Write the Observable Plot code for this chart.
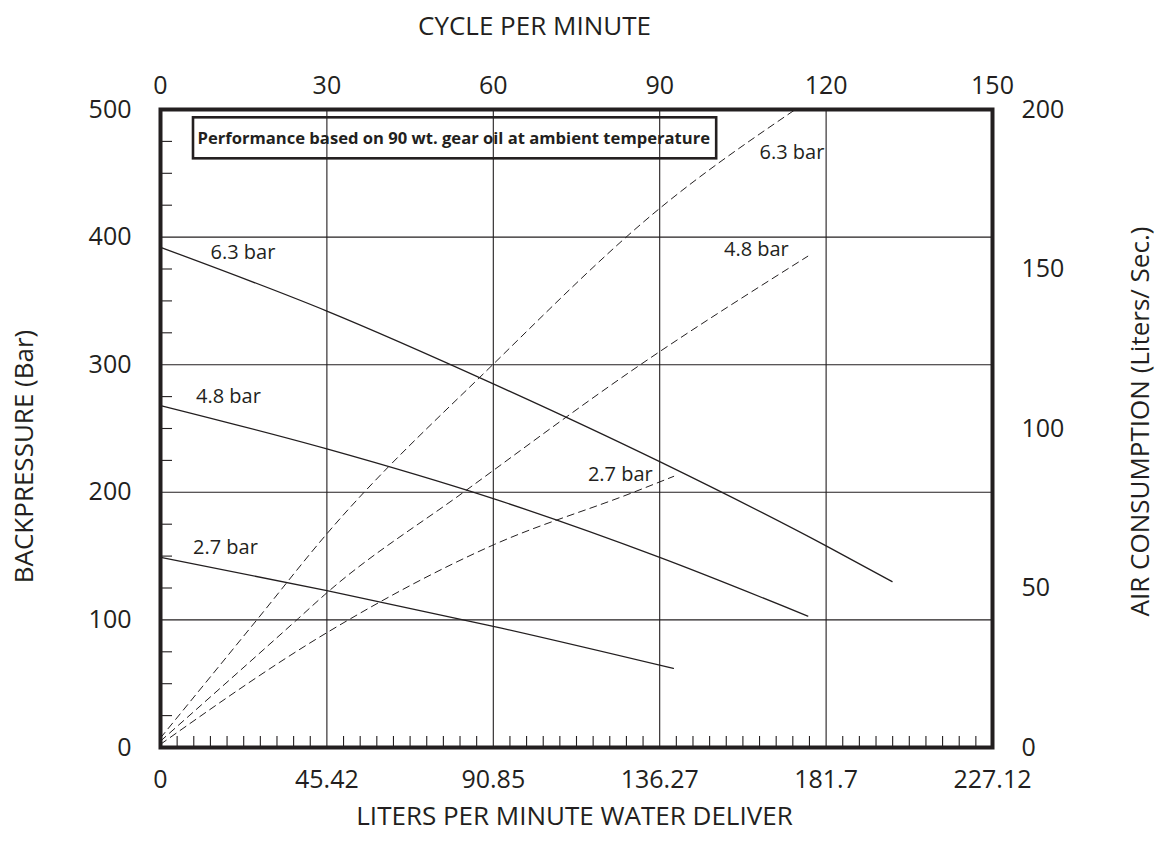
<!DOCTYPE html>
<html><head><meta charset="utf-8">
<script src="https://cdn.jsdelivr.net/npm/d3@7"></script>
<script src="https://cdn.jsdelivr.net/npm/@observablehq/plot@0.6"></script>
<style>body{margin:0;background:#fff;overflow:hidden}</style>
</head><body><div id="chart"></div>
<script>
// ---- axis ticks ----
const flowTicks = [0, 45.42, 90.85, 136.27, 181.7, 227.12];
const cycleTicks = [0, 30, 60, 90, 120, 150];
const bpTicks = [0, 100, 200, 300, 400, 500];
const airTicks = [0, 50, 100, 150, 200];
const pressures = ["6.3 bar", "4.8 bar", "2.7 bar"];

// ---- backpressure curves (solid) ----
const flowBp63 = [0, 45.42, 90.85, 136.27, 181.7, 199.7];
const bp63 = [392, 342, 285, 224, 158, 130];
const flowBp48 = [0, 45.42, 90.85, 136.27, 176.7];
const bp48 = [268, 234, 195, 149, 103];
const flowBp27 = [0, 45.42, 90.85, 140];
const bp27 = [149, 123, 95, 62];

// ---- air consumption curves (dashed, right axis) ----
const flowAir63 = [0, 26.3, 45.42, 90.7, 136.27, 173.3];
const air63 = [3, 40, 67, 120, 169, 200];
const flowAir48 = [0, 37.2, 45.42, 82.7, 131, 176.7];
const air48 = [2, 40, 48.5, 80, 120, 154];
const flowAir27 = [0, 45.42, 90.85, 129.1, 140.1];
const air27 = [1, 36, 63.5, 80, 85];

const note = "Performance based on 90 wt. gear oil at ambient temperature";

const flowMax = 227.12, cycleMax = 150, bpMax = 500, airMax = 200;
const ink = "#231f20";
const W = 1158, H = 853, mL = 160, mR = 166, mT = 109, mB = 106;
const innerW = W - mL - mR, innerH = H - mT - mB;

const rows = (xs, ys, key) => xs.map((x, i) => ({flow: x, [key]: ys[i]}));
const solid = [rows(flowBp63, bp63, "bp"), rows(flowBp48, bp48, "bp"), rows(flowBp27, bp27, "bp")];
const dashed = [rows(flowAir63, air63, "air"), rows(flowAir48, air48, "air"), rows(flowAir27, air27, "air")];
const airToBp = a => a * bpMax / airMax;

const minorX = d3.range(1, 50).filter(i => i % 10).map(i => i * flowMax / 50);
const minorY = d3.range(25, bpMax, 25).filter(v => v % 100);

const solidLabel = (k, dx, dy) => Plot.text([solid[k][0]], {x: "flow", y: "bp", text: () => pressures[k], dx, dy, textAnchor: "start", lineAnchor: "bottom", fontSize: 20, fill: ink});
const dashedLabel = (k, dx, dy) => Plot.text([dashed[k][dashed[k].length - 1]], {x: "flow", y: d => airToBp(d.air), text: () => pressures[k], dx, dy, textAnchor: "end", lineAnchor: "bottom", fontSize: 20, fill: ink});

const chart = Plot.plot({
  width: W, height: H,
  marginLeft: mL, marginRight: mR, marginTop: mT, marginBottom: mB,
  style: {fontFamily: "'Open Sans', sans-serif", fontSize: "25px", background: "white", color: ink},
  x: {domain: [0, flowMax]},
  y: {domain: [0, bpMax]},
  marks: [
    Plot.ruleX(flowTicks.slice(1, -1), {stroke: ink, strokeWidth: 1.1}),
    Plot.ruleY(bpTicks.slice(1, -1), {stroke: ink, strokeWidth: 1.1}),
    Plot.tickX(minorX, {stroke: ink, strokeWidth: 1.1, insetTop: innerH - 11}),
    Plot.tickY(minorY, {stroke: ink, strokeWidth: 1.1, insetRight: innerW - 12}),
    ...solid.map(d => Plot.line(d, {x: "flow", y: "bp", curve: "monotone-x", stroke: ink, strokeWidth: 1.3})),
    ...dashed.map(d => Plot.line(d, {x: "flow", y: r => airToBp(r.air), curve: "monotone-x", stroke: ink, strokeWidth: 1, strokeDasharray: "7,5"})),
    solidLabel(0, 50, 12), solidLabel(1, 35.5, -3), solidLabel(2, 32.5, -3.5),
    dashedLabel(0, 29, 49), dashedLabel(1, -19, 0), dashedLabel(2, -21, 5),
    Plot.frame({stroke: ink, strokeWidth: 4}),
    Plot.axisX({anchor: "bottom", ticks: flowTicks, tickFormat: d => `${d}`, tickSize: 0, tickPadding: 23, fontSize: 25, label: null}),
    Plot.axisX({anchor: "top", ticks: cycleTicks.map(c => c * flowMax / cycleMax), tickFormat: d => `${Math.round(d * cycleMax / flowMax)}`, tickSize: 0, tickPadding: 16, fontSize: 25, label: null}),
    Plot.axisY({anchor: "left", ticks: bpTicks, tickFormat: d => `${d}`, tickSize: 0, tickPadding: 29, fontSize: 25, label: null}),
    Plot.axisY({anchor: "right", ticks: airTicks.map(airToBp), tickFormat: d => `${Math.round(d * airMax / bpMax)}`, tickSize: 0, tickPadding: 29, fontSize: 25, label: null}),
    Plot.text(["CYCLE PER MINUTE"], {frameAnchor: "top", textAnchor: "middle", dx: -42, dy: -75, lineAnchor: "bottom", fontSize: 26, fill: ink}),
    Plot.text(["LITERS PER MINUTE WATER DELIVER"], {frameAnchor: "bottom", textAnchor: "middle", dx: -2, dy: 77, lineAnchor: "bottom", fontSize: 26, fill: ink}),
    Plot.text(["BACKPRESSURE (Bar)"], {frameAnchor: "left", textAnchor: "middle", rotate: -90, dx: -128, dy: 28, lineAnchor: "bottom", fontSize: 26, fill: ink}),
    Plot.text(["AIR CONSUMPTION (Liters/ Sec.)"], {frameAnchor: "right", textAnchor: "middle", rotate: -90, dx: 156, dy: -7, lineAnchor: "bottom", fontSize: 26, fill: ink}),
    Plot.text([note], {frameAnchor: "top-left", dx: 37, dy: 29.5, textAnchor: "start", lineAnchor: "middle", fontSize: 16.6, fontWeight: "bold", fill: ink})
  ]
});
document.getElementById("chart").appendChild(chart);

// box around the note
const svgRect = chart.getBoundingClientRect();
d3.select(chart).selectAll("text").each(function () {
  if (this.textContent === note) {
    const b = this.getBoundingClientRect();
    d3.select(chart).append("rect")
      .attr("x", b.left - svgRect.left - 4.5)
      .attr("y", (b.top + b.bottom) / 2 - svgRect.top - 20.5)
      .attr("width", b.width + 10.5)
      .attr("height", 41)
      .attr("fill", "none")
      .attr("stroke", ink)
      .attr("stroke-width", 2.6);
  }
});
</script>
</body></html>
